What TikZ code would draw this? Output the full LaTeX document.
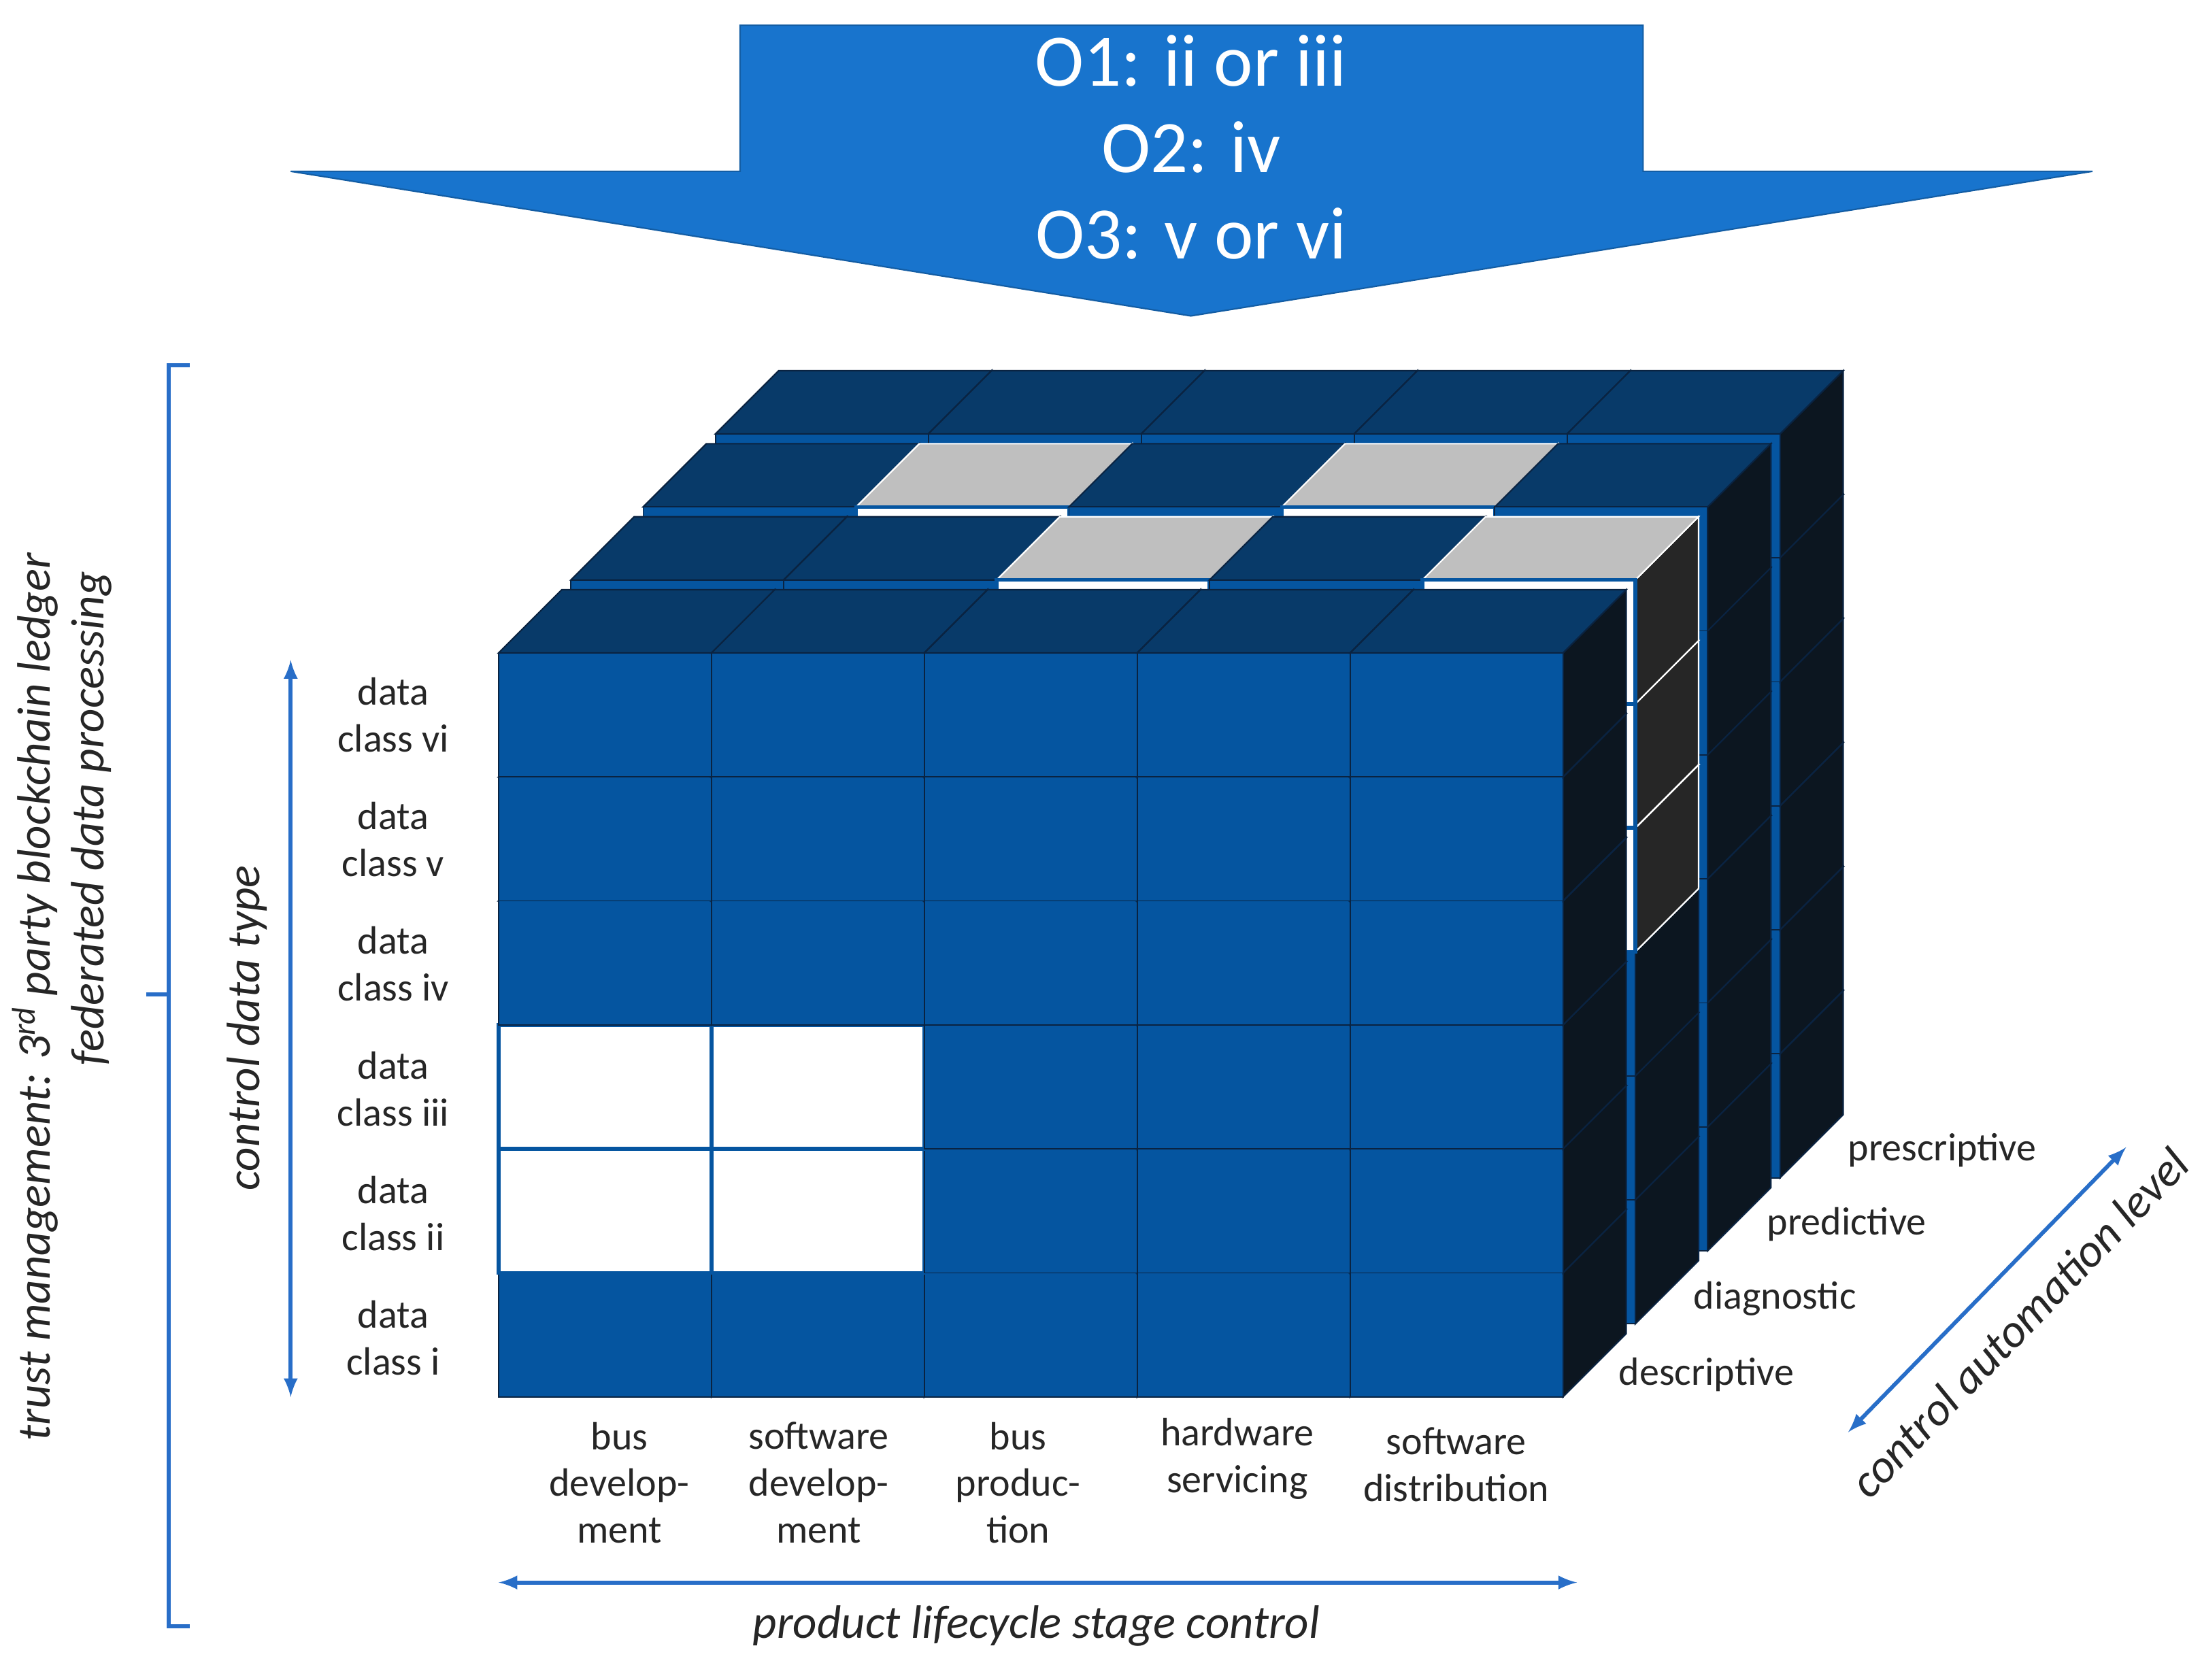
\documentclass[tikz,border=0pt]{standalone}
\usepackage{fontspec}
\setmainfont{Carlito}
\begin{document}
\definecolor{frontc}{RGB}{5,85,160}
\definecolor{topc}{RGB}{8,58,105}
\definecolor{sidec}{RGB}{12,22,32}
\definecolor{edgec}{RGB}{10,35,65}
\definecolor{hlfront}{RGB}{255,255,255}
\definecolor{hltop}{RGB}{191,191,191}
\definecolor{hlside}{RGB}{38,38,38}
\definecolor{arrowc}{RGB}{24,116,205}
\definecolor{linec}{RGB}{40,110,200}
\expandafter\def\csname hl1-4-3\endcsname{}
\expandafter\def\csname hl1-4-4\endcsname{}
\expandafter\def\csname hl1-4-5\endcsname{}
\expandafter\def\csname hl1-2-5\endcsname{}
\expandafter\def\csname hl2-1-5\endcsname{}
\expandafter\def\csname hl2-3-5\endcsname{}
\expandafter\def\csname hl0-0-1\endcsname{}
\expandafter\def\csname hl0-0-2\endcsname{}
\expandafter\def\csname hl0-1-1\endcsname{}
\expandafter\def\csname hl0-1-2\endcsname{}
\begin{tikzpicture}[x=0.02cm,y=-0.02cm,
  lbl/.style={font=\fontsize{16}{19}\selectfont,align=center,text=black!85},
  ital/.style={font=\fontsize{19}{22}\selectfont\itshape,text=black!85},
  arr/.style={linec,line width=1.6pt,<->,>=latex},
  face/.style={line width=0.5pt}]
\useasboundingbox (0,0) rectangle (1568,1196);
% top arrow
\path[fill=arrowc,draw=arrowc!80!black,line width=0.6pt] (527,18)--(1170,18)--(1170,122)--(1490,122)--(848,225)--(207,122)--(527,122)--cycle;
\node[text=white,font=\fontsize{30}{33}\selectfont,align=center] (obj) at (848,105) {O1: ii or iii\\[2pt]O2: iv\\[2pt]O3: v or vi};
% cubes
\foreach \L in {3,2,1,0}{
 \foreach \r in {0,...,5}{
  \foreach \c in {0,...,4}{
   \pgfmathsetmacro\x{355+51.5*\L+151.6*\c}
   \pgfmathsetmacro\y{465-52*\L+88.3*(5-\r)}
   \pgfmathsetmacro\xw{\x+151.6}
   \pgfmathsetmacro\yh{\y+88.3}
   \ifcsname hl\L-\c-\r\endcsname
     \def\fc{hlfront}\def\tc{hltop}\def\sc{hlside}\def\ec{frontc}\def\lw{1.5pt}\def\oc{white}
   \else
     \def\fc{frontc}\def\tc{topc}\def\sc{sidec}\def\ec{edgec}\def\lw{0.5pt}\def\oc{edgec}
   \fi
   \fill[\sc,draw=\oc,line width=0.6pt] (\xw,\y)--++(45,-45)--++(0,88.3)--(\xw,\yh)--cycle;
   \fill[\tc,draw=\oc,line width=0.6pt] (\x,\y)--++(45,-45)--++(151.6,0)--(\xw,\y)--cycle;
   \fill[\fc,draw=\ec,line width=\lw] (\x,\y) rectangle (\xw,\yh);
  }}}
% left brace
\coordinate (b1) at (135,260); \coordinate (b2) at (120,260);
\coordinate (b3) at (120,1158); \coordinate (b4) at (135,1158);
\coordinate (bm) at (120,708); \coordinate (bt) at (104,708);
\draw[linec,line width=1.6pt] (b1)--(b2)--(b3)--(b4);
\draw[linec,line width=1.6pt] (bm)--(bt);
\node[ital,rotate=90] (tm) at (25,710) {trust management: 3\textsuperscript{rd} party blockchain ledger};
\node[ital,rotate=90] (fd) at (65,583) {federated data processing};
% control data type
\coordinate (ct1) at (207,470); \coordinate (ct2) at (207,995);
\draw[arr] (ct1)--(ct2);
\node[ital,rotate=90] (cdt) at (176,732) {control data type};
% row labels
\foreach \t [count=\i from 0] in {vi,v,iv,iii,ii,i}{
  \node[lbl] (row\i) at (280,509+\i*88.8) {data\\class \t};}
% column labels
\node[lbl] (c0) at (441,1056) {bus\\develop-\\ment};
\node[lbl] (c1) at (583,1056) {software\\develop-\\ment};
\node[lbl] (c2) at (725,1056) {bus\\produc-\\tion};
\node[lbl] (c3) at (881,1039) {hardware\\servicing};
\node[lbl] (c4) at (1037,1043) {software\\distribution};
% bottom arrow
\coordinate (p1) at (355,1127); \coordinate (p2) at (1123,1127);
\draw[arr] (p1)--(p2);
\node[ital] (plc) at (738,1158) {product lifecycle stage control};
% depth labels
\node[lbl] (d0) at (1215,979) {descriptive};
\node[lbl] (d1) at (1264,925) {diagnostic};
\node[lbl] (d2) at (1315,872) {predictive};
\node[lbl] (d3) at (1383,819) {prescriptive};
\coordinate (a1) at (1316,1020); \coordinate (a2) at (1514,817);
\draw[arr] (a1)--(a2);
\node[ital,rotate=46] (cal) at (1438,942) {control automation level};
\end{tikzpicture}
\end{document}
